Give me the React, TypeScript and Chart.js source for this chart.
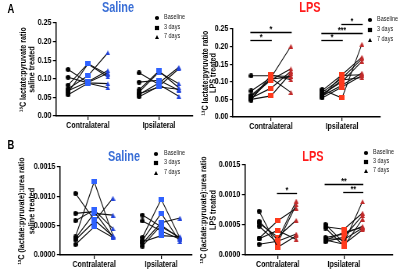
import React, { useEffect, useRef } from 'react';
import { Chart, registerables } from 'chart.js';
Chart.register(...registerables);

// ---------- categories / labels ----------
const groups = ['Contralateral', 'Ipsilateral'];
const timepoints = ['Baseline', '3 days', '7 days'];

// ---------- Panel A: 13C lactate:pyruvate ratio, saline ----------
const aSalContraBase = [0.125, 0.104, 0.083, 0.073, 0.068, 0.063, 0.057];
const aSalContraD3 = [0.090, 0.089, 0.141, 0.108, 0.092, 0.140, 0.088];
const aSalContraD7 = [0.115, 0.087, 0.111, 0.170, 0.122, 0.105, 0.076];
const aSalIpsiBase = [0.116, 0.091, 0.070, 0.064, 0.058, 0.052, 0.060];
const aSalIpsiD3 = [0.085, 0.096, 0.121, 0.118, 0.089, 0.080, 0.078];
const aSalIpsiD7 = [0.053, 0.069, 0.076, 0.087, 0.131, 0.127, 0.072];

// ---------- Panel A: LPS ----------
const aLpsContraBase = [0.117, 0.074, 0.058, 0.054, 0.050, 0.052, 0.048, 0.062];
const aLpsContraD3 = [0.117, 0.112, 0.105, 0.082, 0.060, 0.110, 0.120, 0.108];
const aLpsContraD7 = [0.115, 0.201, 0.137, 0.130, 0.125, 0.070, 0.106, 0.114];
const aLpsIpsiBase = [0.078, 0.075, 0.070, 0.065, 0.060, 0.057, 0.054, 0.062];
const aLpsIpsiD3 = [0.054, 0.120, 0.110, 0.100, 0.090, 0.118, 0.085, 0.105];
const aLpsIpsiD7 = [0.207, 0.170, 0.165, 0.158, 0.125, 0.120, 0.118, 0.112];

// ---------- Panel B: 13C (lactate:pyruvate):urea ratio, saline ----------
const bSalContraBase = [0.00105, 0.00071, 0.000585, 0.00031, 0.000285, 0.000256, 0.00018];
const bSalContraD3 = [0.00060, 0.00074, 0.00077, 0.00125, 0.00071, 0.00057, 0.00048];
const bSalContraD7 = [0.00032, 0.00031, 0.00045, 0.00033, 0.00068, 0.00097, 0.00030];
const bSalIpsiBase = [0.00068, 0.00058, 0.00030, 0.00025, 0.00020, 0.00015, 0.00022];
const bSalIpsiD3 = [0.00048, 0.00041, 0.00095, 0.00071, 0.00055, 0.00051, 0.00033];
const bSalIpsiD7 = [0.00030, 0.00027, 0.00029, 0.00023, 0.00063, 0.00028, 0.00031];

// ---------- Panel B: LPS ----------
const bLpsContraBase = [0.00073, 0.00056, 0.00053, 0.00048, 0.00028, 0.00027, 0.00018];
const bLpsContraD3 = [0.00013, 0.00025, 0.00030, 0.00020, 0.00057, 0.00041, 0.00023];
const bLpsContraD7 = [0.00032, 0.00090, 0.00058, 0.00084, 0.00078, 0.00026, 0.00035];
const bLpsIpsiBase = [0.00051, 0.00047, 0.00045, 0.00029, 0.00027, 0.00025, 0.00022, 0.00024];
const bLpsIpsiD3 = [0.00020, 0.00043, 0.00015, 0.00035, 0.00026, 0.00018, 0.00030, 0.00038];
const bLpsIpsiD7 = [0.00089, 0.00070, 0.00060, 0.00048, 0.00045, 0.00042, 0.00066, 0.00046];

// ---------- significance bars (group index, from/to timepoint index, y value, label) ----------
const aLpsSig = [
  { group: 0, from: 0, to: 1, y: 0.219, label: '*' },
  { group: 0, from: 0, to: 2, y: 0.242, label: '*' },
  { group: 1, from: 0, to: 1, y: 0.219, label: '*' },
  { group: 1, from: 0, to: 2, y: 0.240, label: '***' },
  { group: 1, from: 1, to: 2, y: 0.264, label: '*' },
];
const bLpsSig = [
  { group: 0, from: 1, to: 2, y: 0.00103, label: '*' },
  { group: 1, from: 0, to: 2, y: 0.00118, label: '**' },
  { group: 1, from: 1, to: 2, y: 0.00105, label: '**' },
];

const OFF = 0.28;
const SX = 200 / 256; // narrow-font emulation: canvases are squeezed horizontally
const NARROW = 0.8; // narrowing of rotated axis titles along their length
const FONT = '"Liberation Sans", Arial, Helvetica, sans-serif';

const SAL_SQ = '#2f62ff';
const SAL_TRI = '#2244dd';
const LPS_SQ = '#ff3a1c';
const LPS_TRI = '#c22a2a';

type Sig = { group: number; from: number; to: number; y: number; label: string };
type PanelCfg = {
  left: number; top: number; w: number; h: number;
  areaLeft: number; areaTop: number; areaRight: number; areaBottom: number;
  xMin: number; xMax: number; yMax: number; yStep: number; dec: number;
  yTitle: string[]; titleX: number; titleGap: number;
  sqColor: string; triColor: string;
  contra: number[][]; ipsi: number[][]; sig: Sig[];
};

// marker images pre-stretched so they look round/square after the squeeze
function makeMarker(shape: string, color: string): HTMLCanvasElement {
  const c = document.createElement('canvas');
  const cw = shape === 'rect' ? 7 : 6;
  const ch = shape === 'rect' ? 5 : 5;
  c.width = cw;
  c.height = ch;
  const g = c.getContext('2d')!;
  g.fillStyle = color;
  g.beginPath();
  if (shape === 'circle') {
    g.ellipse(cw / 2, ch / 2, cw / 2, ch / 2, 0, 0, Math.PI * 2);
  } else if (shape === 'rect') {
    g.rect(0, 0, cw, ch);
  } else {
    g.moveTo(cw / 2, 0.3);
    g.lineTo(cw, ch);
    g.lineTo(0, ch);
    g.closePath();
  }
  g.fill();
  return c;
}

const sigPlugin = {
  id: 'sigBars',
  afterDatasetsDraw(chart: any, _a: any, opts: any) {
    const bars: Sig[] = opts.bars || [];
    const { ctx } = chart;
    const x = chart.scales.x;
    const y = chart.scales.y;
    ctx.save();
    ctx.strokeStyle = '#000';
    ctx.fillStyle = '#000';
    ctx.lineWidth = 1.3;
    ctx.font = `bold 9px ${FONT}`;
    ctx.textAlign = 'center';
    ctx.textBaseline = 'bottom';
    for (const b of bars) {
      const c = b.group + 1;
      const x1 = x.getPixelForValue(c + (b.from - 1) * OFF) - 1;
      const x2 = x.getPixelForValue(c + (b.to - 1) * OFF) + 1;
      const py = Math.round(y.getPixelForValue(b.y)) + 0.5;
      ctx.beginPath();
      ctx.moveTo(x1, py);
      ctx.lineTo(x2, py);
      ctx.stroke();
      ctx.fillText(b.label, (x1 + x2) / 2, py + 1.5);
    }
    ctx.restore();
  },
};

const yTitlePlugin = {
  id: 'yTitle',
  afterDraw(chart: any, _a: any, opts: any) {
    const lines: string[] = opts.lines || [];
    const { ctx, chartArea } = chart;
    const cy = (chartArea.top + chartArea.bottom) / 2;
    ctx.save();
    ctx.font = `bold ${opts.size}px ${FONT}`;
    ctx.fillStyle = '#000';
    ctx.textAlign = 'center';
    ctx.textBaseline = 'middle';
    lines.forEach((line, i) => {
      ctx.save();
      ctx.translate((opts.x + i * opts.gap) / SX, cy);
      ctx.scale(1 / SX, 1);
      ctx.rotate(-Math.PI / 2);
      ctx.scale(NARROW, 1);
      ctx.fillText(line, 0, 0);
      ctx.restore();
    });
    ctx.restore();
  },
};

function buildDatasets(cfg: PanelCfg) {
  const styles = [
    makeMarker('circle', '#000'),
    makeMarker('rect', cfg.sqColor),
    makeMarker('triangle', cfg.triColor),
  ];
  const sets: any[] = [];
  [cfg.contra, cfg.ipsi].forEach((side, g) => {
    const [base, d3, d7] = side;
    base.forEach((_, i) => {
      const vals = [base[i], d3[i], d7[i]];
      sets.push({
        data: vals.map((v, t) => ({ x: g + 1 + (t - 1) * OFF, y: v })),
        borderColor: '#111',
        borderWidth: 1.1,
        pointStyle: styles,
        pointRadius: 3,
        showLine: true,
        clip: false,
      });
    });
  });
  return sets;
}

function Panel({ cfg }: { cfg: PanelCfg }) {
  const ref = useRef<HTMLCanvasElement>(null);
  useEffect(() => {
    if (!ref.current) return;
    const chart = new Chart(ref.current, {
      type: 'line',
      data: { datasets: buildDatasets(cfg) },
      plugins: [sigPlugin, yTitlePlugin],
      options: {
        animation: false,
        responsive: false,
        maintainAspectRatio: false,
        devicePixelRatio: 1,
        layout: { padding: { top: cfg.areaTop, right: (cfg.w - cfg.areaRight) / SX, left: 0, bottom: 0 } },
        plugins: {
          legend: { display: false },
          tooltip: { enabled: false },
          sigBars: { bars: cfg.sig },
          yTitle: { lines: cfg.yTitle, x: cfg.titleX, gap: cfg.titleGap, size: 9 },
        } as any,
        scales: {
          x: {
            type: 'linear',
            min: cfg.xMin,
            max: cfg.xMax,
            afterBuildTicks: (s: any) => { s.ticks = groups.map((_, i) => ({ value: i + 1 })); },
            afterFit: (s: any) => { s.height = cfg.h - cfg.areaBottom; },
            ticks: {
              autoSkip: false, maxRotation: 0, padding: 0, color: '#000',
              font: { family: FONT, size: 9, weight: 'bold' },
              callback: (v: any) => groups[Math.round(Number(v)) - 1] ?? '',
            },
            grid: { drawOnChartArea: false, drawTicks: true, tickLength: 4, color: '#000', lineWidth: 1.2 },
            border: { display: true, color: '#000', width: 1.5 },
          },
          y: {
            type: 'linear',
            min: 0,
            max: cfg.yMax,
            afterFit: (s: any) => { s.width = cfg.areaLeft / SX; },
            ticks: {
              stepSize: cfg.yStep, padding: 2, color: '#000',
              font: { family: FONT, size: 9, weight: 'bold' },
              callback: (v: any) => Number(v).toFixed(cfg.dec),
            },
            grid: { drawOnChartArea: false, drawTicks: true, tickLength: 4, color: '#000', lineWidth: 1.2 },
            border: { display: true, color: '#000', width: 1.5 },
          },
        },
      } as any,
    });
    return () => chart.destroy();
  }, [cfg]);
  return (
    <canvas
      ref={ref}
      width={Math.round(cfg.w / SX)}
      height={cfg.h}
      style={{ position: 'absolute', left: cfg.left, top: cfg.top, width: cfg.w, height: cfg.h }}
    />
  );
}

const panels: PanelCfg[] = [
  {
    left: 0, top: 0, w: 200, h: 138, areaLeft: 56, areaTop: 23, areaRight: 193, areaBottom: 116,
    xMin: 0.55, xMax: 2.48, yMax: 0.25, yStep: 0.05, dec: 2,
    yTitle: ['¹³C lactate:pyruvate ratio', 'saline treated'], titleX: 23, titleGap: 9,
    sqColor: SAL_SQ, triColor: SAL_TRI,
    contra: [aSalContraBase, aSalContraD3, aSalContraD7],
    ipsi: [aSalIpsiBase, aSalIpsiD3, aSalIpsiD7], sig: [],
  },
  {
    left: 200, top: 0, w: 200, h: 138, areaLeft: 33, areaTop: 29, areaRight: 180, areaBottom: 117,
    xMin: 0.465, xMax: 2.535, yMax: 0.25, yStep: 0.05, dec: 2,
    yTitle: ['¹³C lactate:pyruvate ratio', 'LPS treated'], titleX: 5, titleGap: 8.5,
    sqColor: LPS_SQ, triColor: LPS_TRI,
    contra: [aLpsContraBase, aLpsContraD3, aLpsContraD7],
    ipsi: [aLpsIpsiBase, aLpsIpsiD3, aLpsIpsiD7], sig: aLpsSig,
  },
  {
    left: 0, top: 138, w: 200, h: 138, areaLeft: 60, areaTop: 29, areaRight: 192, areaBottom: 117,
    xMin: 0.49, xMax: 2.46, yMax: 0.0015, yStep: 0.0005, dec: 4,
    yTitle: ['¹³C (lactate:pyruvate):urea ratio', 'saline treated'], titleX: 22, titleGap: 9.5,
    sqColor: SAL_SQ, triColor: SAL_TRI,
    contra: [bSalContraBase, bSalContraD3, bSalContraD7],
    ipsi: [bSalIpsiBase, bSalIpsiD3, bSalIpsiD7], sig: [],
  },
  {
    left: 200, top: 138, w: 200, h: 138, areaLeft: 45, areaTop: 27, areaRight: 193, areaBottom: 117,
    xMin: 0.507, xMax: 2.74, yMax: 0.0015, yStep: 0.0005, dec: 4,
    yTitle: ['¹³C (lactate:pyruvate):urea ratio', 'LPS treated'], titleX: 4, titleGap: 9,
    sqColor: LPS_SQ, triColor: LPS_TRI,
    contra: [bLpsContraBase, bLpsContraD3, bLpsContraD7],
    ipsi: [bLpsIpsiBase, bLpsIpsiD3, bLpsIpsiD7], sig: bLpsSig,
  },
];

function Marker({ kind }: { kind: number }) {
  return (
    <svg width={6} height={6} style={{ position: 'absolute', left: -3, top: -3 }}>
      {kind === 0 && <circle cx={3} cy={3} r={2.1} fill="#000" />}
      {kind === 1 && <rect x={0.9} y={0.9} width={4.2} height={4.2} fill="#000" />}
      {kind === 2 && <polygon points="3,1 5,5 1,5" fill="#000" />}
    </svg>
  );
}

function Legend({ mx, tx, rows }: { mx: number; tx: number; rows: number[] }) {
  return (
    <>
      {timepoints.map((t, i) => (
        <div key={t}>
          <div style={{ position: 'absolute', left: mx, top: rows[i] }}>
            <Marker kind={i} />
          </div>
          <div style={{
            position: 'absolute', left: tx, top: rows[i] - 5, height: 10, lineHeight: '10px',
            font: `7px ${FONT}`, color: '#222', whiteSpace: 'nowrap',
            transform: `scaleX(${SX})`, transformOrigin: 'left center',
          }}>{t}</div>
        </div>
      ))}
    </>
  );
}

function Label({ text, cx, cy, size, color }: { text: string; cx: number; cy: number; size: number; color: string }) {
  return (
    <div style={{
      position: 'absolute', left: cx - 50, top: cy - size, width: 100, height: size * 2,
      lineHeight: `${size * 2}px`, textAlign: 'center', font: `bold ${size}px ${FONT}`, color,
      whiteSpace: 'nowrap', transform: `scaleX(${SX})`, transformOrigin: 'center center',
    }}>{text}</div>
  );
}

export default function App() {
  return (
    <div style={{ position: 'fixed', left: 0, top: 0, width: 400, height: 276, background: '#fff', overflow: 'hidden' }}>
      {panels.map((p, i) => <Panel key={i} cfg={p} />)}
      <Label text="A" cx={11} cy={14} size={12} color="#000" />
      <Label text="B" cx={11} cy={150} size={12} color="#000" />
      <Label text="Saline" cx={118} cy={13} size={14} color="#3a6fd6" />
      <Label text="LPS" cx={310} cy={13} size={14} color="#ff1a1a" />
      <Label text="Saline" cx={124} cy={162} size={14} color="#3a6fd6" />
      <Label text="LPS" cx={313} cy={162} size={14} color="#ff1a1a" />
      <Legend mx={157} tx={164} rows={[17.5, 27.5, 37]} />
      <Legend mx={370} tx={377} rows={[20, 30, 39.5]} />
      <Legend mx={156} tx={164} rows={[154, 163, 173]} />
      <Legend mx={366} tx={373} rows={[153, 162, 171]} />
    </div>
  );
}
